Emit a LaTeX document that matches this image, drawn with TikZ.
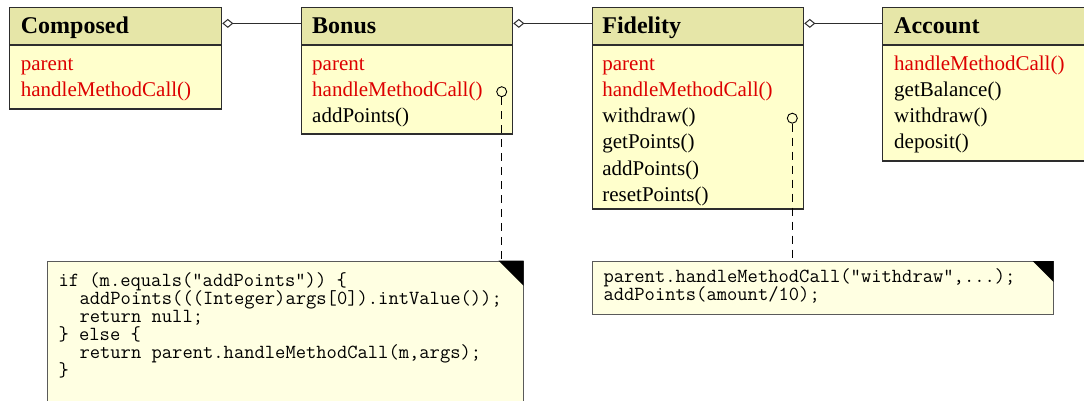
\documentclass[tikz,border=0pt]{standalone}
\usepackage{fontspec}
\setmainfont{Liberation Serif}
\usetikzlibrary{arrows.meta}

\definecolor{hdrfill}{RGB}{230,230,168}
\definecolor{bodyfill}{RGB}{255,255,204}
\definecolor{notefill}{RGB}{255,255,226}
\definecolor{memberred}{RGB}{221,0,0}
\definecolor{linegray}{RGB}{45,45,45}
\definecolor{notegray}{RGB}{90,90,90}

\begin{document}
\begin{tikzpicture}[x=1pt,y=-1pt,
  classpart/.style={draw=linegray, line width=1.3pt, anchor=north west, inner sep=0pt},
  hdr/.style={classpart, fill=hdrfill},
  bodypart/.style={classpart, fill=bodyfill},
  title/.style={anchor=base west, inner sep=0pt, font=\fontsize{24}{28}\selectfont\bfseries},
  member/.style={anchor=base west, inner sep=0pt, font=\fontsize{21}{26}\selectfont},
  inherited/.style={member, text=memberred},
  agg/.style={draw=linegray, line width=1pt, {Diamond[open, length=11pt, width=9pt, line width=1pt]}-},
  port/.style={circle, draw=black, line width=0.9pt, minimum size=10pt, inner sep=0pt},
  notelink/.style={draw=black, line width=0.9pt, dash pattern=on 8pt off 6pt},
  note/.style={draw=notegray, line width=1pt, fill=notefill, anchor=north west, inner sep=0pt},
  code/.style={anchor=base west, inner sep=0pt, font=\fontsize{20}{18}\selectfont\ttfamily},
]
\useasboundingbox (0,0) rectangle (1084,400);
\clip (0,0) rectangle (1084,400);
\fill[white] (0,0) rectangle (1084,400);

% ---- class Composed ----
\node[hdr, minimum width=212, minimum height=36.9] (composedH) at (9,6.8) {};
\node[bodypart, minimum width=212, minimum height=63.3] (composedB) at (composedH.south west) {};
\node[title] (composedT) at (20.7,33.3) {Composed};
\node[inherited] (composedM1) at (20.7,70) {parent};
\node[inherited] (composedM2) at (20.7,96.3) {handleMethodCall()};

% ---- class Bonus ----
\node[hdr, minimum width=211, minimum height=36.9] (bonusH) at (301,6.8) {};
\node[bodypart, minimum width=211, minimum height=88.3] (bonusB) at (bonusH.south west) {};
\node[title] (bonusT) at (312,33.3) {Bonus};
\node[inherited] (bonusM1) at (312,70) {parent};
\node[inherited] (bonusM2) at (312,96.3) {handleMethodCall()};
\node[member] (bonusM3) at (312,122.6) {addPoints()};

% ---- class Fidelity ----
\node[hdr, minimum width=211.3, minimum height=36.9] (fidH) at (591.7,6.8) {};
\node[bodypart, minimum width=211.3, minimum height=163.3] (fidB) at (fidH.south west) {};
\node[title] (fidT) at (602.2,33.3) {Fidelity};
\node[inherited] (fidM1) at (602.2,70) {parent};
\node[inherited] (fidM2) at (602.2,96.3) {handleMethodCall()};
\node[member] (fidM3) at (602.2,122.6) {withdraw()};
\node[member] (fidM4) at (602.2,148.9) {getPoints()};
\node[member] (fidM5) at (602.2,175.2) {addPoints()};
\node[member] (fidM6) at (602.2,201.5) {resetPoints()};

% ---- class Account ----
\node[hdr, minimum width=215, minimum height=36.9] (accH) at (882,6.8) {};
\node[bodypart, minimum width=215, minimum height=115.3] (accB) at (accH.south west) {};
\node[title] (accT) at (894,33.3) {Account};
\node[inherited] (accM1) at (894,70) {handleMethodCall()};
\node[member] (accM2) at (894,96.3) {getBalance()};
\node[member] (accM3) at (894,122.6) {withdraw()};
\node[member] (accM4) at (894,148.9) {deposit()};

% ---- aggregations ----
\draw[agg] ([yshift=2.5pt]composedH.east) -- ([yshift=2.5pt]composedH.east -| bonusH.west);
\draw[agg] ([yshift=2.5pt]bonusH.east) -- ([yshift=2.5pt]bonusH.east -| fidH.west);
\draw[agg] ([yshift=2.5pt]fidH.east) -- ([yshift=2.5pt]fidH.east -| accH.west);

% ---- note on Bonus.handleMethodCall ----
\node[note, minimum width=476, minimum height=180] (bonusNote) at (46.5,260.5) {};
\fill[black] (bonusNote.north east) -- ++(-25,0) -- ++(25,25) -- cycle;
\node[code] (bonusC1) at (58.3,286) {if (m.equals("addPoints")) \{};
\node[code] (bonusC2) at (79.3,304) {addPoints(((Integer)args[0]).intValue());};
\node[code] (bonusC3) at (79.3,322) {return null;};
\node[code] (bonusC4) at (58.3,340) {\} else \{};
\node[code] (bonusC5) at (79.3,358) {return parent.handleMethodCall(m,args);};
\node[code] (bonusC6) at (58.3,376) {\}};

% ---- note on Fidelity.withdraw ----
\node[note, minimum width=461, minimum height=52.5] (fidNote) at (591.7,261) {};
\fill[black] (fidNote.north east) -- ++(-21,0) -- ++(21,21) -- cycle;
\node[code] (fidC1) at (603.3,282.5) {parent.handleMethodCall("withdraw",...);};
\node[code] (fidC2) at (603.3,300.5) {addPoints(amount/10);};

% ---- note attachments ----
\node[port] (bonusPort) at (501.7,91.7) {};
\node[port] (fidPort) at (792.3,118.2) {};
\draw[notelink] (bonusPort.south) -- (bonusPort.south |- bonusNote.north);
\draw[notelink] (fidPort.south) -- (fidPort.south |- fidNote.north);
\end{tikzpicture}
\end{document}
